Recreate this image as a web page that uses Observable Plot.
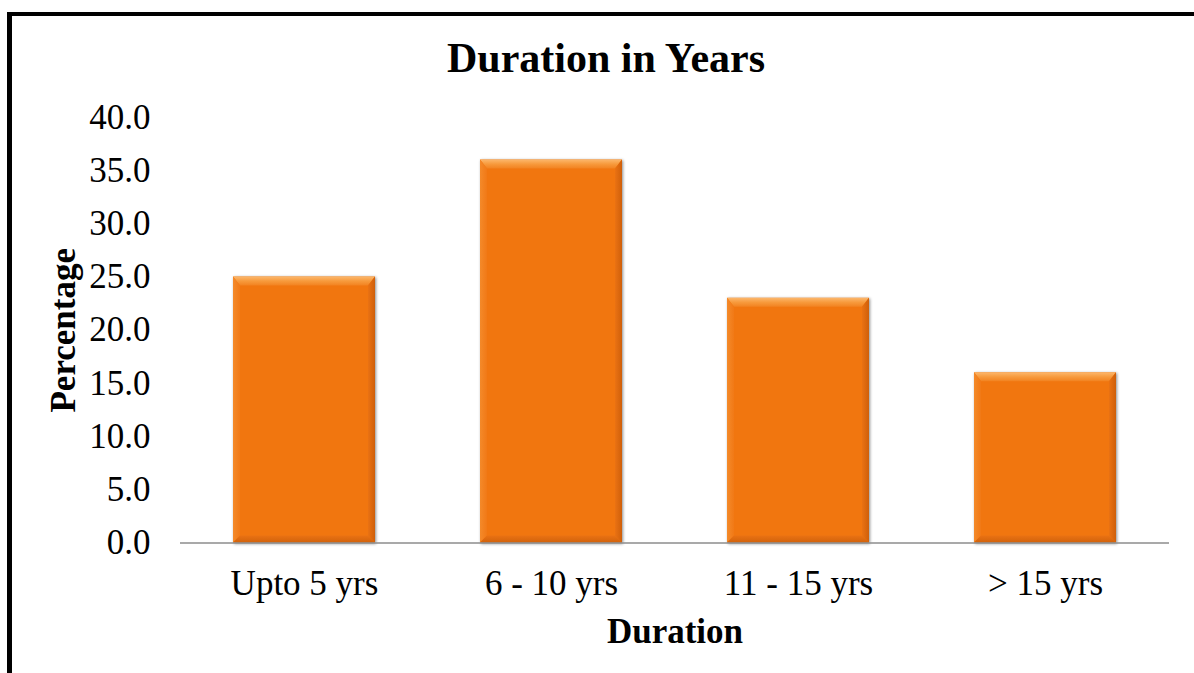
<!DOCTYPE html>
<html>
<head>
<meta charset="utf-8">
<script src="https://cdn.jsdelivr.net/npm/d3@7"></script>
<script src="https://cdn.jsdelivr.net/npm/@observablehq/plot@0.6"></script>
<style>
  html, body { margin: 0; padding: 0; background: #fff; }
  #page { position: relative; width: 1194px; height: 673px; overflow: hidden; background: #fff; }
  #frame-top { position: absolute; left: 7px; top: 12px; right: 0; height: 4px; background: #000; }
  #frame-left { position: absolute; left: 7px; top: 12px; bottom: 0; width: 5px; background: #000; }
  #title {
    position: absolute; left: 12px; right: 0; top: 37px;
    text-align: center; padding-left: 6px;
    font-family: "Liberation Serif", "Times New Roman", serif;
    font-weight: bold; font-size: 42px; line-height: 42px; color: #000;
  }
  #chart { position: absolute; left: 0; top: 90px; }
  #chart g[aria-label="x-axis label"] text,
  #chart g[aria-label="y-axis label"] text { font-weight: bold; }
  #chart g[aria-label="bar"] { filter: drop-shadow(1.5px 1.5px 1.5px rgba(0,0,0,0.45)); }
</style>
</head>
<body>
<div id="page">
  <div id="frame-top"></div>
  <div id="frame-left"></div>
  <div id="title">Duration in Years</div>
  <div id="chart"></div>
</div>
<script>
// Share of respondents by duration band
const categories = ["Upto 5 yrs", "6 - 10 yrs", "11 - 15 yrs", "> 15 yrs"];
const percentages = [25.0, 36.0, 23.0, 16.0];
const yTicks = [0, 5, 10, 15, 20, 25, 30, 35, 40];

const data = categories.map((c, i) => ({category: c, pct: percentages[i]}));

const NS = "http://www.w3.org/2000/svg";

// Draws each bar, then lays bevelled edges over it (lighter top, darker right/bottom)
function bevelRender(index, scales, values, dimensions, context, next) {
  const g = next(index, scales, values, dimensions, context);
  const svg = context.ownerSVGElement;
  let defs = svg.querySelector("defs.bevel");
  if (!defs) {
    defs = document.createElementNS(NS, "defs");
    defs.setAttribute("class", "bevel");
    defs.innerHTML = `
      <linearGradient id="bevelTop" x1="0" y1="0" x2="0" y2="1">
        <stop offset="0" stop-color="#fcb76c"/>
        <stop offset="0.5" stop-color="#f79a3c"/>
        <stop offset="1" stop-color="#f28220"/>
      </linearGradient>
      <linearGradient id="bevelRight" x1="0" y1="0" x2="1" y2="0">
        <stop offset="0" stop-color="#ea7213"/>
        <stop offset="1" stop-color="#cf5f0a"/>
      </linearGradient>
      <linearGradient id="bevelBottom" x1="0" y1="0" x2="0" y2="1">
        <stop offset="0" stop-color="#ea7213"/>
        <stop offset="1" stop-color="#d2620b"/>
      </linearGradient>
      <linearGradient id="bevelLeft" x1="0" y1="0" x2="1" y2="0">
        <stop offset="0" stop-color="#f48a2a"/>
        <stop offset="1" stop-color="#f17916"/>
      </linearGradient>`;
    svg.insertBefore(defs, svg.firstChild);
  }
  const rects = Array.from(g.querySelectorAll("rect"));
  for (const r of rects) {
    const x = +r.getAttribute("x"), y = +r.getAttribute("y");
    const w = +r.getAttribute("width"), h = +r.getAttribute("height");
    const bt = 9, bs = 7;
    const polys = [
      [[x, y], [x + w, y], [x + w - bs, y + bt], [x + bs, y + bt], "url(#bevelTop)"],
      [[x, y], [x + bs, y + bt], [x + bs, y + h - bs], [x, y + h], "url(#bevelLeft)"],
      [[x + w, y], [x + w, y + h], [x + w - bs, y + h - bs], [x + w - bs, y + bt], "url(#bevelRight)"],
      [[x, y + h], [x + bs, y + h - bs], [x + w - bs, y + h - bs], [x + w, y + h], "url(#bevelBottom)"]
    ];
    for (const p of polys) {
      const el = document.createElementNS(NS, "polygon");
      el.setAttribute("points", p.slice(0, 4).map(d => d.join(",")).join(" "));
      el.setAttribute("fill", p[4]);
      g.appendChild(el);
    }
  }
  return g;
}

const chart = Plot.plot({
  width: 1194,
  height: 583,
  marginLeft: 180,
  marginRight: 25,
  marginTop: 27,
  marginBottom: 130.5,
  style: {
    fontFamily: "'Liberation Serif', 'Times New Roman', serif",
    fontSize: "35px",
    color: "#000",
    background: "transparent",
    overflow: "visible"
  },
  x: {domain: categories, paddingInner: 0.425, paddingOuter: 0.2125},
  y: {domain: [0, 40]},
  marks: [
    Plot.barY(data, {x: "category", y: "pct", fill: "#f1760f", render: bevelRender}),
    Plot.ruleX([0], {frameAnchor: "left", stroke: "#8c8c8c", strokeWidth: 1.5}),
    Plot.ruleY([0], {stroke: "#8c8c8c", strokeWidth: 1.5}),
    Plot.axisY({
      ticks: yTicks, tickSize: 0, tickPadding: 30,
      tickFormat: d3.format(".1f"),
      label: "Percentage", labelAnchor: "center", labelOffset: 130, labelArrow: "none"
    }),
    Plot.axisX({
      tickSize: 0, tickPadding: 27.5,
      label: "Duration", labelAnchor: "center", labelOffset: 99.5, labelArrow: "none"
    })
  ]
});
document.getElementById("chart").appendChild(chart);
</script>
</body>
</html>
